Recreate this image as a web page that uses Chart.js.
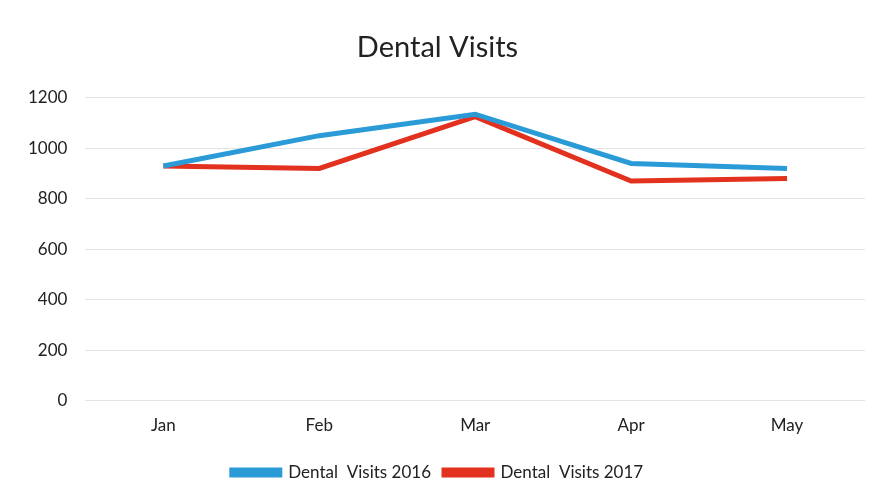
<!DOCTYPE html>
<html>
<head>
<meta charset="utf-8">
<script src="https://cdn.jsdelivr.net/npm/chart.js@4"></script>
<style>
    html, body { margin: 0; padding: 0; background: #fff; }
    #wrap { width: 883px; height: 503px; }
</style>
</head>
<body>
<div id="wrap"><canvas id="myChart"></canvas></div>
<script>
// values
const months = ['Jan', 'Feb', 'Mar', 'Apr', 'May'];
const visits2016 = [930, 1050, 1135, 940, 920];
const visits2017 = [930, 920, 1125, 870, 880];
const yTicks = [0, 200, 400, 600, 800, 1000, 1200];

const fontName = "Lato, 'Open Sans', sans-serif";

function chart() {
    let ctx = document.getElementById('myChart');
    let myChart = new Chart(ctx, {
        type: 'line',
        data: {
            labels: months,
            datasets: [{
                label: 'Dental  Visits 2016',
                data: visits2016,
                borderColor: '#2b9bd7',
                backgroundColor: '#2b9bd7',
                borderWidth: 5,
                pointRadius: 0,
                tension: 0,
                fill: false
            }, {
                label: 'Dental  Visits 2017',
                data: visits2017,
                borderColor: '#e2321f',
                backgroundColor: '#e2321f',
                borderWidth: 5,
                pointRadius: 0,
                tension: 0,
                fill: false
            }]
        },
        options: {
            responsive: true,
            maintainAspectRatio: false,
            animation: false,
            layout: { padding: { left: 10, right: 18, top: 18, bottom: 12 } },
            plugins: {
                title: {
                    display: true,
                    text: 'Dental Visits',
                    color: '#222',
                    font: { family: fontName, size: 29, weight: 'normal' },
                    padding: { top: 12, bottom: 33 }
                },
                legend: {
                    position: 'bottom',
                    labels: {
                        color: '#222',
                        font: { family: fontName, size: 17 },
                        boxWidth: 48,
                        boxHeight: 5,
                        padding: 13
                    }
                },
                tooltip: { enabled: false }
            },
            scales: {
                x: {
                    offset: true,
                    grid: { display: false, drawTicks: false },
                    border: { display: false },
                    ticks: {
                        color: '#222',
                        font: { family: fontName, size: 17 },
                        padding: 15
                    }
                },
                y: {
                    min: yTicks[0],
                    max: yTicks[yTicks.length - 1],
                    afterBuildTicks: function(axis) {
                        axis.ticks = yTicks.map(v => ({ value: v }));
                    },
                    grid: { color: '#e4e4e4', lineWidth: 1, drawTicks: false },
                    border: { display: false },
                    ticks: {
                        color: '#222',
                        font: { family: fontName, size: 17 },
                        padding: 18,
                        callback: function(v) { return String(v); }
                    }
                }
            }
        }
    });
}

chart();
</script>
</body>
</html>
